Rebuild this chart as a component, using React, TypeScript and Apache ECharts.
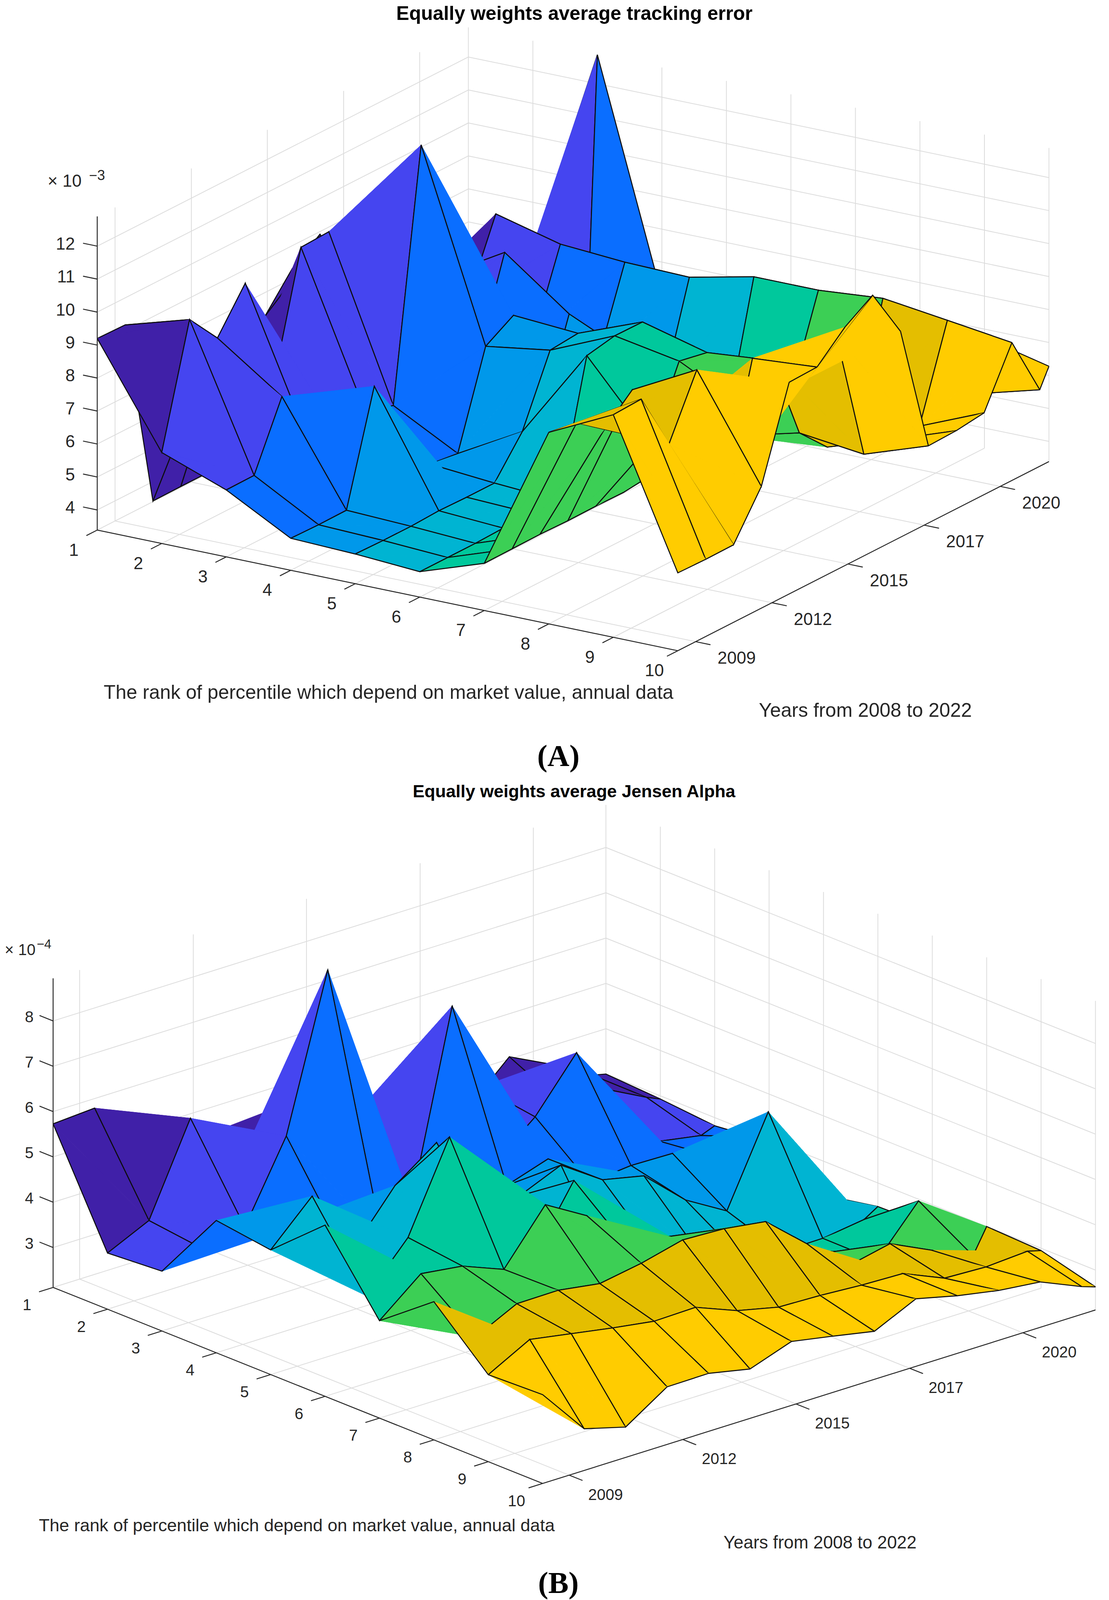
import React, { useEffect, useRef } from 'react';
import * as echarts from 'echarts';

const PAGE_W = 2840;
const PAGE_H = 4745;

const ranks = [1, 2, 3, 4, 5, 6, 7, 8, 9, 10];
// the last year step in the figure is a short one
const yearPositions = [0, 1, 2, 3, 4, 5, 6, 7, 8, 9, 10, 11, 12, 13, 13.33];
const yearTickPositions = [0.64, 3.38, 6.11, 8.85, 11.58];
const yearTickLabels = ['2009', '2012', '2015', '2017', '2020'];
const bandColors = ['#4020a8', '#4545f0', '#0a6eff', '#0098ea', '#00b4d2', '#00c89c', '#3ccf55', '#e4be00', '#ffcc00'];

const errorTicks = [4, 5, 6, 7, 8, 9, 10, 11, 12];
const alphaTicks = [3, 4, 5, 6, 7, 8];

// one row per percentile rank, one column per year, x 10^-3
const trackingError = [
  [9.2, 9.18, 3.41, 3.42, 3.42, 4, 7.26, 8.3, 8.92, 7, 6, 5.5, 5.2, 5, 5],
  [6.15, 9.75, 8.76, 9.99, 6.49, 10.22, 10.26, 6, 6, 6, 7.19, 6.06, 8.22, 6, 6.58],
  [5.42, 5.43, 7.39, 5.5, 5.48, 5.62, 5.4, 12.87, 5.48, 5.5, 8.32, 5.21, 7.71, 5.58, 12.88],
  [4.36, 4.34, 4.35, 7.68, 4.38, 4.46, 4.35, 7.17, 7.68, 4.18, 6.86, 4.96, 7.57, 5.48, 5.97],
  [4.29, 4.27, 4.27, 4.31, 4.29, 4.29, 5.42, 7.46, 7.54, 5.77, 5.96, 4.38, 7.52, 4.97, 4.97],
  [4.16, 4.16, 4.16, 4.19, 4.21, 4.16, 8.13, 8.3, 8.29, 4.46, 4.46, 3.9, 7.94, 4.96, 4.96],
  [4.82, 4.83, 4.84, 4.82, 4.83, 4.82, 5.91, 7.94, 7.77, 4.82, 4.96, 5.24, 7.94, 4.96, 4.96],
  [9.2, 9.06, 8.43, 9.2, 7.45, 6.45, 6.45, 6.95, 7.94, 5.31, 4.45, 4.45, 8.1, 4.95, 4.95],
  [10.14, 10.18, 8.39, 10.21, 6.14, 9.7, 7.56, 8.24, 9.14, 5.07, 5.08, 5.06, 7.84, 5.18, 6.74],
  [5.75, 5.73, 5.74, 7.08, 9.81, 9.84, 10.62, 11.16, 9.63, 5.73, 5.76, 5.87, 7.57, 5.71, 6.28],
];

// same layout, x 10^-4
const jensenAlpha = [
  [5.73, 5.79, 4.2, 4.38, 4, 4, 3.8, 3.8, 3.8, 3.9, 3.2, 4.05, 3.6, 3.07, 3],
  [3.36, 3.79, 5.76, 4.11, 5.39, 4.3, 4.72, 4.4, 3.8, 4.44, 3.5, 3.47, 3.53, 3.06, 2.93],
  [3.44, 3.64, 3.84, 5.56, 8.94, 4, 3.15, 7.28, 3.5, 4.26, 5.39, 3.2, 2.86, 2.7, 2.82],
  [5.04, 4.35, 4.45, 3.73, 3.48, 3.22, 3.3, 3.8, 4.1, 3.29, 3.38, 3.36, 3, 3.15, 2.95],
  [4.87, 5.77, 4.33, 5.43, 6.09, 3.8, 4.34, 4.73, 4.12, 3.92, 3.1, 2.57, 4.47, 2.4, 2.25],
  [5.9, 4.05, 5.05, 6.98, 4.5, 3.72, 5.16, 2.65, 2.97, 2.72, 2.35, 2.15, 2.16, 2.29, 2.48],
  [4.27, 5.02, 4.9, 4.54, 5.68, 5.15, 4.15, 4.12, 3.4, 3, 2.7, 2.64, 2.15, 3.18, 2.5],
  [5.17, 4.1, 4.55, 4.56, 4.42, 4.58, 4.81, 4.77, 4.64, 3.86, 3.09, 3.29, 2.86, 2.45, 3],
  [4.04, 4.53, 4.37, 4.21, 4.07, 4.09, 3.73, 3.52, 3.49, 3.43, 3.4, 3.01, 2.97, 3.03, 2.95],
  [4.08, 3.04, 2.79, 3.39, 3.4, 3.21, 3.53, 3.36, 3.18, 3.61, 3.39, 3.22, 3.12, 2.73, 2.63],
];

const panelA = {
  values: trackingError,
  zTicks: errorTicks,
  origin: [249, 1572],
  rankStep: [165.2, 39.75],
  yearStep: [71.3, -42.08],
  zUnit: 97.8,
  zMin: 3.39,
  zTop: 12.9,
  rankTickLen: 0.39,
  yearTickLen: 0.23,
  zTickLen: 0.22,
  tickFont: 44,
  rankLabelOffset: [-60, 58],
  yearLabelOffset: [105, 48],
  zLabelOffset: [-57, -8],
  exponent: '−3',
  exponentPos: [122, 536],
  exponentGap: 106,
  exponentFont: [44, 36],
  title: 'Equally weights average tracking error',
  titlePos: [1471, 39],
  titleSize: 49.6,
  rankName: [995, 2053],
  rankNameSize: 49.8,
  yearName: [2216, 2106],
  yearNameSize: 50,
  tag: '(A)',
  tagPos: [1430, 2241],
};

const panelB = {
  values: jensenAlpha,
  zTicks: alphaTicks,
  origin: [136, 3818],
  rankStep: [139.3, 64.6],
  yearStep: [106.2, -38.6],
  zUnit: 134.4,
  zMin: 2.12,
  zTop: 8.94,
  rankTickLen: 0.34,
  yearTickLen: 0.245,
  zTickLen: 0.25,
  tickFont: 40,
  rankLabelOffset: [-67, 51],
  yearLabelOffset: [93, 57],
  zLabelOffset: [-50, -12],
  exponent: '−4',
  exponentPos: [12, 2816],
  exponentGap: 82,
  exponentFont: [40, 33],
  title: 'Equally weights average Jensen Alpha',
  titlePos: [1470, 2347],
  titleSize: 45,
  rankName: [760, 4523],
  rankNameSize: 45.1,
  yearName: [2100, 4574],
  yearNameSize: 45.3,
  tag: '(B)',
  tagPos: [1430, 4693],
};

type Panel = typeof panelA;

function project(p: Panel, rank: number, pos: number, z: number) {
  return [
    p.origin[0] + (rank - 1) * p.rankStep[0] + pos * p.yearStep[0],
    p.origin[1] + (rank - 1) * p.rankStep[1] + pos * p.yearStep[1] - (z - p.zMin) * p.zUnit,
  ];
}

function surfaceSeries(p: Panel) {
  // far cells first, the figure is seen from rank 10 / first year
  const cells: number[][] = [];
  for (let r = 0; r < ranks.length - 1; r++) {
    for (let i = yearPositions.length - 2; i >= 0; i--) {
      cells.push([r, i]);
    }
  }
  return {
    type: 'custom',
    coordinateSystem: 'cartesian2d',
    silent: true,
    z: 2,
    data: cells,
    renderItem: (_params: any, api: any) => {
      const r = api.value(0);
      const i = api.value(1);
      const at = (rk: number, ix: number) =>
        api.coord(project(p, ranks[rk], yearPositions[ix], p.values[rk][ix]));
      const a = at(r, i);
      const far = at(r, i + 1);
      const c = at(r + 1, i + 1);
      const near = at(r + 1, i);
      const fill = bandColors[r];
      const tri = (points: number[][]) => ({
        type: 'polygon',
        shape: { points },
        style: { fill, stroke: fill, lineWidth: 1 },
      });
      const edges = (points: number[][]) => ({
        type: 'polyline',
        shape: { points },
        style: { fill: 'none', stroke: '#0d0d0d', lineWidth: 2.6 },
      });
      return {
        type: 'group',
        children: [tri([a, far, c]), edges([a, far, c]), tri([a, near, c]), edges([a, near, c])],
      };
    },
  };
}

function lineSeries(segments: number[][], color: string, width: number, z: number) {
  return {
    type: 'custom',
    coordinateSystem: 'cartesian2d',
    silent: true,
    z,
    data: segments,
    renderItem: (_params: any, api: any) => {
      const from = api.coord([api.value(0), api.value(1)]);
      const to = api.coord([api.value(2), api.value(3)]);
      return {
        type: 'line',
        shape: { x1: from[0], y1: from[1], x2: to[0], y2: to[1] },
        style: { stroke: color, lineWidth: width },
      };
    },
  };
}

function gridSegments(p: Panel) {
  const segs: number[][] = [];
  const lastRank = ranks[ranks.length - 1];
  const lastPos = yearPositions[yearPositions.length - 1];
  const push = (u: number[], v: number[]) => segs.push([u[0], u[1], v[0], v[1]]);
  p.zTicks.forEach((z) => {
    push(project(p, 1, 0, z), project(p, 1, lastPos, z));
    push(project(p, 1, lastPos, z), project(p, lastRank, lastPos, z));
  });
  ranks.forEach((r) => {
    push(project(p, r, lastPos, p.zMin), project(p, r, lastPos, p.zTop));
    push(project(p, r, 0, p.zMin), project(p, r, lastPos, p.zMin));
  });
  yearTickPositions.forEach((pos) => {
    push(project(p, 1, pos, p.zMin), project(p, 1, pos, p.zTop));
    push(project(p, 1, pos, p.zMin), project(p, lastRank, pos, p.zMin));
  });
  return segs;
}

function axisSegments(p: Panel) {
  const segs: number[][] = [];
  const lastRank = ranks[ranks.length - 1];
  const lastPos = yearPositions[yearPositions.length - 1];
  const push = (u: number[], v: number[]) => segs.push([u[0], u[1], v[0], v[1]]);
  push(project(p, 1, 0, p.zMin), project(p, lastRank, 0, p.zMin));
  push(project(p, lastRank, 0, p.zMin), project(p, lastRank, lastPos, p.zMin));
  push(project(p, 1, 0, p.zMin), project(p, 1, 0, p.zTop));
  ranks.forEach((r) => push(project(p, r, 0, p.zMin), project(p, r, -p.rankTickLen, p.zMin)));
  yearTickPositions.forEach((pos) =>
    push(project(p, lastRank, pos, p.zMin), project(p, lastRank + p.yearTickLen, pos, p.zMin)),
  );
  p.zTicks.forEach((z) => push(project(p, 1, 0, z), project(p, 1 - p.zTickLen, 0, z)));
  return segs;
}

function label(text: string, x: number, y: number, fontSize: number, align = 'center', extra: any = {}) {
  return {
    type: 'text',
    x,
    y,
    silent: true,
    style: {
      text,
      fontSize,
      fontFamily: 'Liberation Sans',
      fill: '#262626',
      align,
      verticalAlign: 'middle',
      ...extra,
    },
  };
}

function panelTexts(p: Panel) {
  const out: any[] = [];
  const lastRank = ranks[ranks.length - 1];
  ranks.forEach((r) => {
    const at = project(p, r, 0, p.zMin);
    out.push(label(String(r), at[0] + p.rankLabelOffset[0], at[1] + p.rankLabelOffset[1], p.tickFont));
  });
  yearTickPositions.forEach((pos, k) => {
    const at = project(p, lastRank, pos, p.zMin);
    out.push(label(yearTickLabels[k], at[0] + p.yearLabelOffset[0], at[1] + p.yearLabelOffset[1], p.tickFont));
  });
  p.zTicks.forEach((z) => {
    const at = project(p, 1, 0, z);
    out.push(label(String(z), at[0] + p.zLabelOffset[0], at[1] + p.zLabelOffset[1], p.tickFont, 'right'));
  });
  out.push(label('× 10', p.exponentPos[0], p.exponentPos[1], p.exponentFont[0], 'left'));
  out.push(label(p.exponent, p.exponentPos[0] + p.exponentGap, p.exponentPos[1] - 17, p.exponentFont[1], 'left'));
  out.push(
    label(p.title, p.titlePos[0], p.titlePos[1], p.titleSize, 'center', { fontWeight: 'bold', fill: '#000' }),
  );
  out.push(label('The rank of percentile which depend on market value, annual data', p.rankName[0], p.rankName[1], p.rankNameSize));
  out.push(label('Years from 2008 to 2022', p.yearName[0], p.yearName[1], p.yearNameSize));
  out.push(
    label(p.tag, p.tagPos[0], p.tagPos[1], 78, 'center', {
      fontFamily: 'Liberation Serif',
      fontWeight: 'bold',
      fill: '#000',
    }),
  );
  return out;
}

export default function App() {
  const chartRef = useRef<HTMLDivElement>(null);
  // the browser may give less height than the figure asks for, the whole figure has to stay in view
  const height = Math.min(window.innerHeight, PAGE_H);

  useEffect(() => {
    if (!chartRef.current) return;
    const chart = echarts.init(chartRef.current, undefined, { renderer: 'svg' });
    const panels = [panelA, panelB];
    const squeeze = height / PAGE_H;

    chart.setOption({
      animation: false,
      backgroundColor: '#fff',
      grid: { left: 0, right: 0, top: 0, bottom: 0 },
      xAxis: { type: 'value', min: 0, max: PAGE_W, show: false },
      yAxis: { type: 'value', min: 0, max: PAGE_H, inverse: true, show: false },
      graphic: {
        elements: panels.flatMap(panelTexts).map((el) => ({ ...el, y: el.y * squeeze })),
      },
      series: [
        ...panels.map((p) => lineSeries(gridSegments(p), '#dcdcdc', 2, 1)),
        ...panels.map(surfaceSeries),
        ...panels.map((p) => lineSeries(axisSegments(p), '#262626', 2.4, 3)),
      ],
    });

    return () => {
      chart.dispose();
    };
  }, [height]);

  return (
    <div
      ref={chartRef}
      style={{ position: 'absolute', left: 0, top: 0, width: PAGE_W, height }}
    />
  );
}
